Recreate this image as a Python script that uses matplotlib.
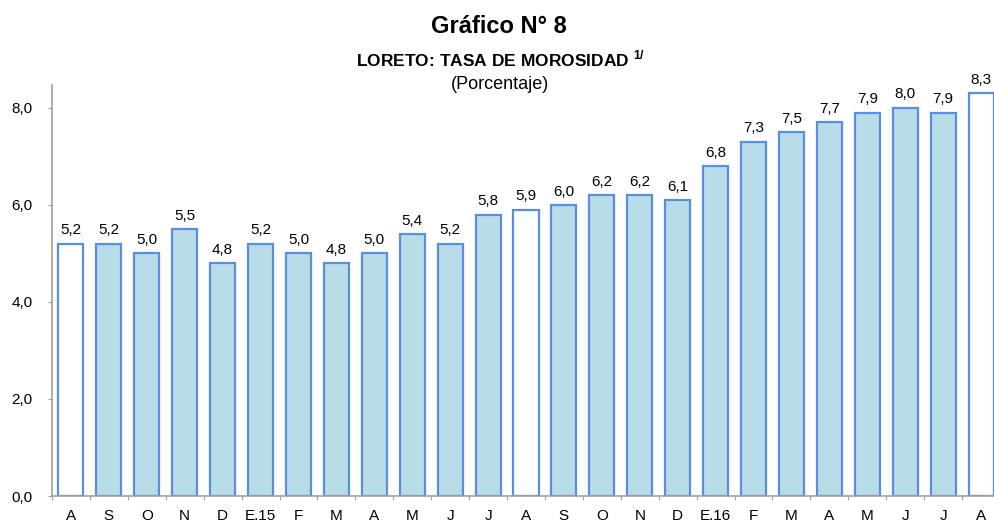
import matplotlib
matplotlib.use("Agg")
import matplotlib.pyplot as plt

plt.rcParams['font.family'] = ['Liberation Sans', 'DejaVu Sans']
plt.rcParams['mathtext.fontset'] = 'custom'
plt.rcParams['mathtext.rm'] = 'Liberation Sans'
plt.rcParams['mathtext.bf'] = 'Liberation Sans:bold'

categories = ["A", "S", "O", "N", "D", "E.15", "F", "M", "A", "M", "J", "J", "A",
              "S", "O", "N", "D", "E.16", "F", "M", "A", "M", "J", "J", "A"]
values = [5.2, 5.2, 5.0, 5.5, 4.8, 5.2, 5.0, 4.8, 5.0, 5.4, 5.2, 5.8, 5.9,
          6.0, 6.2, 6.2, 6.1, 6.8, 7.3, 7.5, 7.7, 7.9, 8.0, 7.9, 8.3]
highlight = [0, 12, 24]
yticks = [0, 2, 4, 6, 8]
ytick_labels = ["0,0", "2,0", "4,0", "6,0", "8,0"]

W, H = 995, 520
fig = plt.figure(figsize=(W / 100, H / 100), dpi=100)
left = 52 / W
right = 1000 / W
bottom = (H - 496) / H
top = (H - 85) / H
ax = fig.add_axes([left, bottom, right - left, top - bottom])

x = list(range(len(categories)))
colors = ['white' if i in highlight else '#B8DDE8' for i in x]
ax.bar(x, values, width=0.66, color=colors, edgecolor='#5B8EDC', linewidth=1.6, zorder=2)

for i, v in enumerate(values):
    ax.text(i, v + 0.13, f"{v:.1f}".replace('.', ','), ha='center', va='bottom', fontsize=11)

ax.set_xlim(-0.5, len(categories) - 0.5)
ax.set_ylim(0, 8.47)
ax.set_yticks(yticks)
ax.set_yticklabels(ytick_labels, fontsize=11)
ax.set_xticks([i - 0.5 for i in range(len(categories) + 1)])
ax.set_xticklabels([])
ax.set_xticks(x, minor=True)
ax.set_xticklabels(categories, minor=True, fontsize=11)
ax.tick_params(axis='x', which='major', length=3, color='#A0A0A0')
ax.tick_params(axis='x', which='minor', length=0, pad=9)
ax.tick_params(axis='y', length=3, color='#A0A0A0', pad=11)

for s in ['top', 'right']:
    ax.spines[s].set_visible(False)
for s in ['left', 'bottom']:
    ax.spines[s].set_color('#A0A0A0')
    ax.spines[s].set_linewidth(1.2)

fig.text(499 / W, 1 - 33 / H, "Gráfico N° 8", ha='center', va='baseline', fontsize=17, fontweight='bold')
fig.text(501 / W, 1 - 66 / H, r"LORETO: TASA DE MOROSIDAD $^{\mathbf{1/}}$", ha='center', va='baseline',
         fontsize=12.5, fontweight='bold')
fig.text(500 / W, 1 - 89 / H, "(Porcentaje)", ha='center', va='baseline', fontsize=13)

fig.savefig("out.png", dpi=100)
